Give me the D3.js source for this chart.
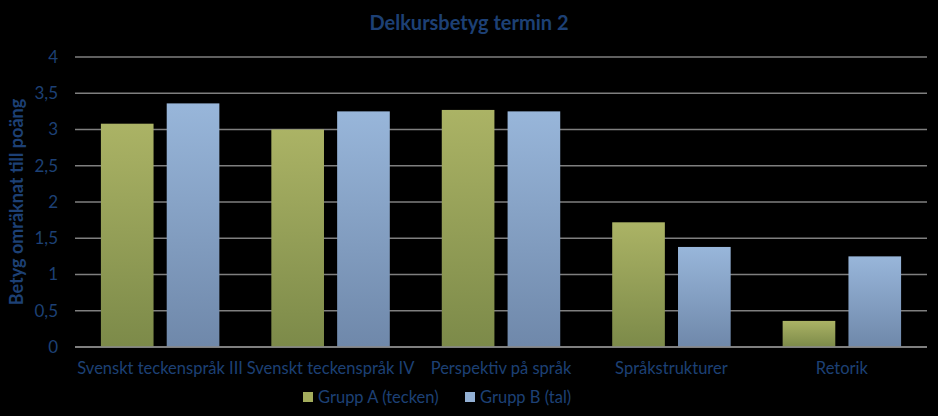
<!DOCTYPE html>
<html lang="sv">
<head>
    <meta charset="UTF-8">
    <title>Delkursbetyg termin 2</title>
    <script src="https://d3js.org/d3.v7.min.js"></script>
    <style>
        body { margin: 0; background: #000; font-family: Lato, "Open Sans", sans-serif; }
        svg { display: block; background: #000; }
    </style>
</head>
<body>
<svg width="938" height="416"></svg>
<script>
    // Data
    const categories = ["Svenskt teckenspråk III", "Svenskt teckenspråk IV", "Perspektiv på språk", "Språkstrukturer", "Retorik"];
    const seriesNames = ["Grupp A (tecken)", "Grupp B (tal)"];
    const grupA = [3.08, 3.0, 3.27, 1.72, 0.36];
    const grupB = [3.36, 3.25, 3.25, 1.38, 1.25];
    const yTicks = [0, 0.5, 1, 1.5, 2, 2.5, 3, 3.5, 4];

    const textColor = "#1d4075";
    const gradients = [
        { id: "gA", top: "#abb365", bottom: "#7c8a49", legend: "#a3ac5c" },
        { id: "gB", top: "#98b6da", bottom: "#6f88aa", legend: "#93b0d4" }
    ];

    const svg = d3.select("svg");
    const margin = { top: 57, right: 11, bottom: 69, left: 75 };
    const width = 938, height = 416;

    const x0 = d3.scaleBand().domain(categories).range([margin.left, width - margin.right]).paddingInner(0.305).paddingOuter(0.152);
    const x1 = d3.scaleBand().domain(seriesNames).range([0, x0.bandwidth()]).paddingInner(0.2);
    const y = d3.scaleLinear().domain([0, 4]).range([height - margin.bottom, margin.top]);

    // gradients
    const defs = svg.append("defs");
    gradients.forEach(g => {
        const lg = defs.append("linearGradient").attr("id", g.id).attr("x1", 0).attr("y1", 0).attr("x2", 0).attr("y2", 1);
        lg.append("stop").attr("offset", "0%").attr("stop-color", g.top);
        lg.append("stop").attr("offset", "100%").attr("stop-color", g.bottom);
    });

    // title
    svg.append("text")
        .attr("x", 469).attr("y", 30)
        .attr("text-anchor", "middle")
        .attr("fill", textColor)
        .style("font-size", "20px").style("font-weight", "bold")
        .text("Delkursbetyg termin 2");

    // gridlines
    svg.append("g")
        .selectAll("line")
        .data(yTicks)
        .join("line")
        .attr("x1", margin.left).attr("x2", width - margin.right)
        .attr("y1", d => y(d)).attr("y2", d => y(d))
        .attr("stroke", "#7f7f7f").attr("stroke-width", 1.3);

    // y axis
    const yAxis = svg.append("g")
        .attr("transform", `translate(${margin.left},0)`)
        .call(d3.axisLeft(y).tickValues(yTicks).tickSize(0).tickPadding(17)
            .tickFormat(d => String(d).replace(".", ",")));
    yAxis.select(".domain").remove();
    yAxis.selectAll("text").attr("fill", textColor).style("font-size", "17px").style("font-family", "Lato, sans-serif");

    // y label
    svg.append("text")
        .attr("transform", `translate(23,${(margin.top + height - margin.bottom) / 2}) rotate(-90)`)
        .attr("text-anchor", "middle")
        .attr("fill", textColor)
        .style("font-size", "18px").style("font-weight", "bold")
        .text("Betyg omräknat till poäng");

    // bars
    const series = [grupA, grupB];
    const groups = svg.append("g").selectAll("g")
        .data(categories)
        .join("g")
        .attr("transform", d => `translate(${x0(d)},0)`);

    groups.selectAll("rect")
        .data((c, i) => series.map((s, k) => ({ name: seriesNames[k], value: s[i], k })))
        .join("rect")
        .attr("x", d => x1(d.name))
        .attr("width", x1.bandwidth())
        .attr("y", d => y(d.value))
        .attr("height", d => y(0) - y(d.value))
        .attr("fill", d => `url(#${gradients[d.k].id})`);

    // baseline
    svg.append("line")
        .attr("x1", margin.left).attr("x2", width - margin.right)
        .attr("y1", y(0)).attr("y2", y(0))
        .attr("stroke", "#8a8a8a").attr("stroke-width", 1.3);

    // x labels
    const xAxis = svg.append("g")
        .attr("transform", `translate(0,${y(0)})`)
        .call(d3.axisBottom(x0).tickSize(0).tickPadding(15));
    xAxis.select(".domain").remove();
    xAxis.selectAll("text").attr("fill", textColor).style("font-size", "16.5px").style("font-family", "Lato, sans-serif");

    // legend
    const legendX = [303, 465];
    const legend = svg.append("g").selectAll("g")
        .data(seriesNames)
        .join("g")
        .attr("transform", (d, i) => `translate(${legendX[i]},392)`);
    legend.append("rect")
        .attr("width", 10).attr("height", 10)
        .attr("fill", (d, i) => gradients[i].legend);
    legend.append("text")
        .attr("x", 15).attr("y", 11)
        .attr("fill", textColor)
        .style("font-size", "16.5px")
        .text(d => d);
</script>
</body>
</html>
